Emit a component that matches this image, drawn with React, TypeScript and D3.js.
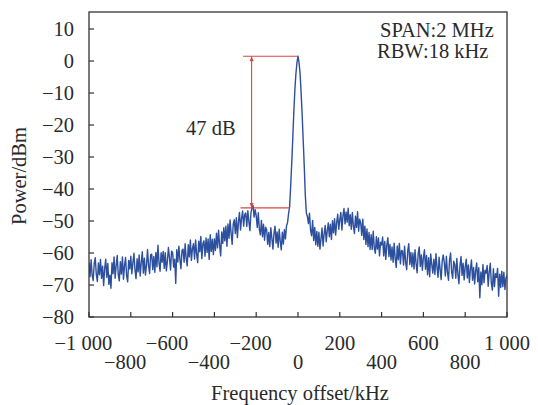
import React from "react";
import * as d3 from "d3";

// spectrum samples (dBm), every 5 kHz from -1000 kHz
const startKHz = -1000;
const stepKHz = 5;
const powerDbm: number[] = [
  -63.0, -67.4, -62.1, -66.9, -68.6, -63.2, -61.5, -66.8, -68.9, -63.1,
  -66.8, -62.0, -67.9, -64.1, -70.2, -64.9, -61.9, -67.6, -63.3, -69.8,
  -66.9, -71.0, -63.0, -66.5, -61.2, -67.9, -63.9, -60.8, -66.8, -68.7,
  -62.7, -66.6, -61.2, -68.2, -63.9, -61.4, -67.1, -69.0, -62.3, -65.0,
  -61.0, -66.5, -63.1, -60.1, -65.3, -68.0, -61.8, -65.9, -60.6, -67.2,
  -63.0, -59.6, -66.3, -61.6, -66.9, -63.8, -58.9, -64.0, -66.4, -60.5,
  -60.4, -65.2, -61.1, -66.0, -59.8, -64.3, -57.6, -63.0, -65.7, -59.9,
  -62.9, -59.5, -64.8, -59.9, -65.6, -62.6, -58.3, -61.5, -65.3, -59.4,
  -59.8, -64.4, -61.9, -69.5, -59.0, -62.8, -57.9, -62.1, -64.9, -59.2,
  -58.8, -62.9, -57.1, -61.7, -64.0, -57.4, -61.2, -55.9, -62.3, -58.6,
  -57.1, -61.9, -55.9, -60.4, -63.0, -56.3, -59.6, -54.8, -61.8, -57.0,
  -56.2, -61.0, -55.3, -59.8, -55.6, -62.0, -54.3, -59.5, -55.7, -60.5,
  -55.6, -59.2, -53.8, -58.4, -52.9, -57.6, -60.9, -53.4, -57.0, -52.1,
  -56.2, -51.6, -57.9, -50.9, -55.4, -49.7, -53.9, -57.3, -51.0, -49.6,
  -53.9, -49.0, -55.2, -50.2, -47.3, -52.8, -49.2, -46.9, -51.6, -48.0,
  -47.5, -51.7, -46.8, -50.2, -53.0, -47.4, -45.9, -45.2, -48.8, -46.5,
  -48.3, -52.0, -47.4, -52.6, -54.3, -49.8, -54.9, -51.0, -56.0, -51.9,
  -52.7, -57.3, -53.6, -58.0, -52.1, -55.4, -58.8, -53.9, -51.6, -56.9,
  -53.4, -58.2, -52.6, -56.3, -59.0, -53.5, -57.2, -52.7, -55.6, -51.5,
  -50.5, -47.6, -45.5, -39.0, -32.0, -24.0, -16.0, -9.0, -4.0, -0.5,
  1.5, -0.5, -4.0, -10.0, -17.0, -25.0, -33.0, -42.0, -47.5, -48.6,
  -50.8, -47.6, -52.9, -54.6, -49.8, -56.1, -52.0, -57.4, -53.3, -57.9,
  -53.5, -58.8, -55.6, -52.2, -57.8, -54.0, -51.4, -56.5, -53.0, -50.6,
  -54.9, -51.0, -55.8, -49.9, -53.7, -49.3, -54.4, -50.5, -47.9, -52.6,
  -49.6, -47.3, -52.8, -48.4, -46.1, -50.9, -47.2, -50.4, -46.0, -51.5,
  -48.0, -52.6, -47.3, -51.6, -53.9, -48.5, -52.0, -47.1, -53.2, -49.4,
  -50.6, -54.5, -49.4, -55.8, -51.6, -57.3, -52.5, -58.0, -53.6, -58.9,
  -54.3, -58.9, -53.2, -58.4, -60.1, -54.9, -58.8, -55.3, -60.9, -56.6,
  -57.5, -55.0, -60.9, -56.4, -62.0, -57.5, -55.2, -61.1, -57.3, -62.2,
  -58.1, -62.9, -56.9, -61.7, -64.5, -57.8, -62.1, -57.0, -63.4, -59.2,
  -59.4, -63.8, -57.9, -62.9, -65.2, -59.3, -57.1, -63.6, -59.8, -64.3,
  -60.0, -65.0, -59.0, -63.3, -66.2, -60.2, -58.1, -64.2, -60.6, -65.4,
  -61.4, -59.0, -65.1, -60.8, -66.8, -61.5, -67.4, -60.3, -63.6, -66.3,
  -61.9, -66.7, -60.2, -64.4, -67.6, -61.3, -65.2, -68.3, -62.5, -60.6,
  -63.1, -67.2, -61.0, -66.1, -68.5, -62.2, -60.0, -65.8, -67.9, -62.6,
  -63.6, -67.9, -61.7, -66.6, -69.6, -63.9, -61.1, -67.0, -63.2, -68.4,
  -64.4, -61.9, -67.8, -63.7, -69.2, -65.0, -62.2, -68.5, -64.5, -69.7,
  -65.5, -63.1, -69.0, -64.6, -74.0, -65.9, -69.9, -63.6, -69.3, -65.4,
  -66.3, -63.9, -70.4, -65.9, -63.2, -69.4, -71.6, -64.9, -70.5, -66.5,
  -67.6, -64.8, -73.5, -66.6, -70.8, -65.7, -70.5, -66.0, -71.4, -67.9,
  -67.0,
];

const xTicks = [-1000, -800, -600, -400, -200, 0, 200, 400, 600, 800, 1000];
const yTicks = [-80, -70, -60, -50, -40, -30, -20, -10, 0, 10];
const infoLines = ["SPAN:2 MHz", "RBW:18 kHz"];

// 47 dB marker
const peakDbm = 1.5;
const pedestalDbm = -45.9;
const markerKHz = -222;
const topLineFromKHz = -263;
const topLineToKHz = 0;
const bottomLineFromKHz = -275;
const bottomLineToKHz = -38;
const markerLabel = "47 dB";

const width = 538;
const height = 405;
const left = 89;
const right = 507;
const top = 12;
const bottom = 317;
const font = "'Liberation Serif', 'Times New Roman', Times, serif";
const fontSize = 20.5;
const textColor = "#2a2a2a";
const red = "#d8463f";

const fmt = (v: number): string => {
  const a = Math.abs(v);
  const s = a >= 1000 ? `${Math.floor(a / 1000)} ${String(a % 1000).padStart(3, "0")}` : String(a);
  return v < 0 ? "\u2212" + s : s;
};

const App = (): React.JSX.Element => {
  const x = d3.scaleLinear([-1000, 1000], [left, right]);
  const y = d3.scaleLinear([-80, 15.3125], [bottom, top]);

  const line = d3
    .line<number>()
    .x((_d, i) => x(startKHz + i * stepKHz))
    .y((d) => y(d));

  const mx = x(markerKHz);
  const yTop = y(peakDbm);
  const yBot = y(pedestalDbm);

  return (
    <svg
      width={width}
      height={height}
      style={{ position: "absolute", left: 0, top: 0, background: "#fff" }}
      fontFamily={font}
    >
      <defs>
        <clipPath id="plot">
          <rect x={left} y={top} width={right - left} height={bottom - top} />
        </clipPath>
      </defs>

      <path
        d={line(powerDbm) as string}
        fill="none"
        stroke="#2c4f9e"
        strokeWidth={1.4}
        strokeLinejoin="round"
        clipPath="url(#plot)"
      />

      {/* annotation */}
      <g stroke={red} strokeWidth={1.1} fill="none">
        <line x1={x(topLineFromKHz)} x2={x(topLineToKHz)} y1={yTop} y2={yTop} />
        <line x1={x(bottomLineFromKHz)} x2={x(bottomLineToKHz)} y1={yBot} y2={yBot} />
        <line x1={mx} x2={mx} y1={yTop} y2={yBot} />
      </g>
      <path d={`M${mx},${yTop}l-2,5h4z`} fill={red} />
      <path d={`M${mx},${yBot}l-2,-5h4z`} fill={red} />
      <text x={186} y={135} fontSize={fontSize} fill={textColor}>
        {markerLabel}
      </text>

      {/* frame */}
      <rect
        x={left}
        y={top}
        width={right - left}
        height={bottom - top}
        fill="none"
        stroke="#333"
        strokeWidth={1.3}
      />

      {yTicks.map((t) => (
        <g key={t}>
          <line x1={left} x2={left + 5} y1={y(t)} y2={y(t)} stroke="#333" strokeWidth={1.2} />
          <text x={74} y={y(t) + 7} textAnchor="end" fontSize={fontSize} fill={textColor}>
            {fmt(t)}
          </text>
        </g>
      ))}

      {xTicks.map((t, i) => (
        <g key={t}>
          <line x1={x(t)} x2={x(t)} y1={bottom} y2={bottom - 5} stroke="#333" strokeWidth={1.2} />
          <text
            x={x(t) - (t < 0 ? 5.6 : 0)}
            y={i % 2 === 0 ? 350 : 369}
            textAnchor="middle"
            fontSize={fontSize}
            fill={textColor}
          >
            {fmt(t)}
          </text>
        </g>
      ))}

      <text x={300} y={400} textAnchor="middle" fontSize={fontSize} fill={textColor}>
        Frequency offset/kHz
      </text>
      <text
        transform="translate(26,176) rotate(-90)"
        textAnchor="middle"
        fontSize={fontSize}
        fill={textColor}
      >
        Power/dBm
      </text>

      {infoLines.map((s, i) => (
        <text key={s} x={i === 0 ? 380 : 377} y={37 + i * 20.5} fontSize={fontSize} fill={textColor}>
          {s}
        </text>
      ))}
    </svg>
  );
};

export default App;
